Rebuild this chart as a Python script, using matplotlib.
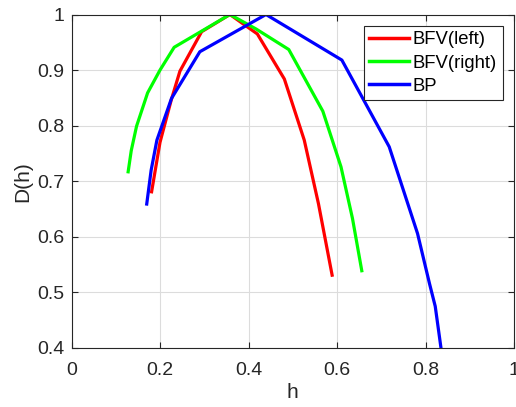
import matplotlib
matplotlib.use("Agg")
import matplotlib.pyplot as plt

plt.rcParams['font.family'] = ['Liberation Sans', 'DejaVu Sans']

# BFV(left)
h_left = [0.181, 0.20, 0.225, 0.245, 0.294, 0.358, 0.42, 0.481, 0.526, 0.558, 0.589]
d_left = [0.681, 0.77, 0.845, 0.898, 0.969, 1.0, 0.965, 0.884, 0.774, 0.66, 0.531]

# BFV(right)
h_right = [0.128, 0.135, 0.147, 0.172, 0.20, 0.232, 0.358, 0.417, 0.491, 0.568, 0.609, 0.635, 0.656]
d_right = [0.717, 0.755, 0.799, 0.859, 0.90, 0.941, 1.0, 0.974, 0.937, 0.826, 0.726, 0.633, 0.539]

# BP
h_bp = [0.17, 0.18, 0.193, 0.226, 0.29, 0.4395, 0.611, 0.718, 0.782, 0.809, 0.822, 0.835]
d_bp = [0.659, 0.72, 0.774, 0.849, 0.933, 1.0, 0.918, 0.762, 0.606, 0.516, 0.475, 0.4]

fig = plt.figure(figsize=(5.16, 4.07), dpi=100)
ax = fig.add_axes([71.5/516, 1 - 348/407, (514 - 71.5)/516, (348 - 14.5)/407])

ax.plot(h_left, d_left, color='#ff0000', lw=2.3, label='BFV(left)')
ax.plot(h_right, d_right, color='#00ff00', lw=2.3, label='BFV(right)')
ax.plot(h_bp, d_bp, color='#0000ff', lw=2.3, label='BP')

ax.set_xlim(0, 1)
ax.set_ylim(0.4, 1)
ax.set_xticks([0, 0.2, 0.4, 0.6, 0.8, 1])
ax.set_xticklabels(['0', '0.2', '0.4', '0.6', '0.8', '1'])
ax.set_yticks([0.4, 0.5, 0.6, 0.7, 0.8, 0.9, 1])
ax.set_yticklabels(['0.4', '0.5', '0.6', '0.7', '0.8', '0.9', '1'])
ax.grid(True, color='#dcdcdc', lw=0.8)
ax.set_axisbelow(True)
ax.tick_params(direction='in', top=True, right=True, length=4, width=0.8,
               colors='#262626', labelsize=14, labelcolor='#262626')
ax.tick_params(axis='x', pad=10)
ax.tick_params(axis='y', pad=5)
for s in ax.spines.values():
    s.set_color('#262626')
    s.set_linewidth(0.8)
ax.set_xlabel('h', fontsize=15, color='#262626', labelpad=3)
ax.set_ylabel('D(h)', fontsize=15, color='#262626', labelpad=4)

leg = ax.legend(loc='upper right', fontsize=13.3, fancybox=False, framealpha=1,
                edgecolor='#262626', handlelength=2.15, borderaxespad=0.62,
                labelspacing=0.33, handletextpad=0.2, borderpad=0.3)
leg.get_frame().set_linewidth(0.8)
for line in leg.get_lines():
    line.set_linewidth(2.5)

fig.savefig('out.png', dpi=100)
